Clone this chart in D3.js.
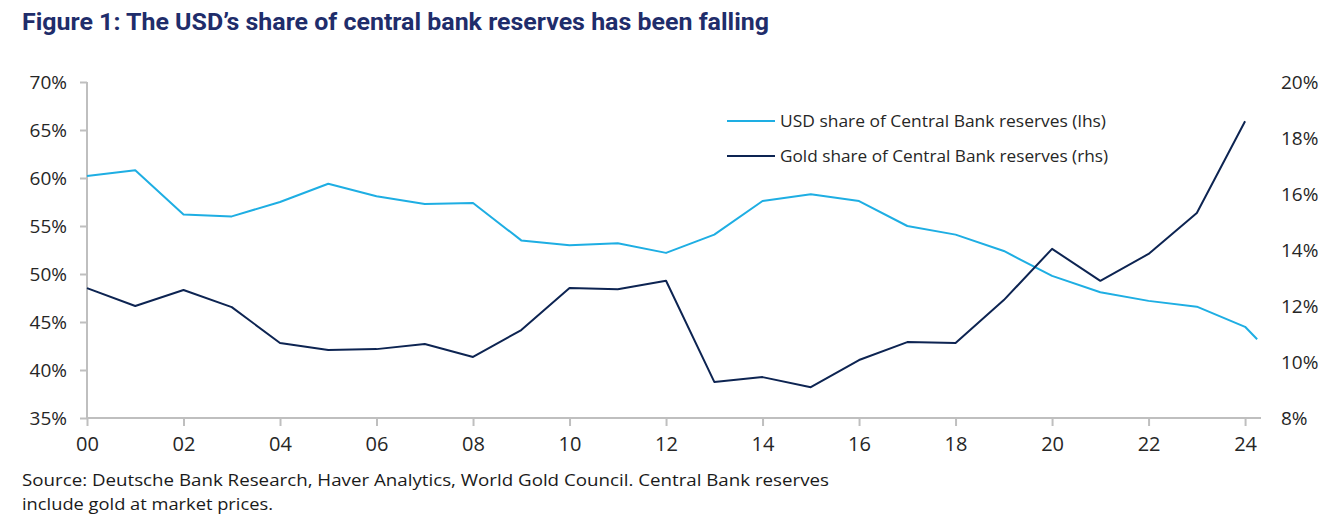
<!DOCTYPE html>
<html>
<head>
<meta charset="utf-8">
<script src="https://cdn.jsdelivr.net/npm/d3@7"></script>
<style>
  body { margin: 0; background: #fff; }
  svg text { font-family: "Open Sans", "Noto Sans", sans-serif; }
</style>
</head>
<body>
<svg id="chart" width="1342" height="517"></svg>
<script>
// Data
const years = [2000, 2001, 2002, 2003, 2004, 2005, 2006, 2007, 2008, 2009, 2010, 2011, 2012,
               2013, 2014, 2015, 2016, 2017, 2018, 2019, 2020, 2021, 2022, 2023, 2024, 2024.25];
const usdShare = [60.2, 60.8, 56.2, 56.0, 57.5, 59.4, 58.1, 57.3, 57.4, 53.5, 53.0, 53.2, 52.2,
                  54.1, 57.6, 58.3, 57.6, 55.0, 54.1, 52.4, 49.8, 48.1, 47.2, 46.6, 44.5, 43.2];
const goldYears = years.slice(0, 25);
const goldShare = [12.64, 12.0, 12.57, 11.96, 10.68, 10.43, 10.46, 10.64, 10.18, 11.14, 12.64, 12.6, 12.9,
                   9.29, 9.46, 9.1, 10.07, 10.71, 10.68, 12.21, 14.04, 12.9, 13.86, 15.32, 18.6];
const xTicks = [2000, 2002, 2004, 2006, 2008, 2010, 2012, 2014, 2016, 2018, 2020, 2022, 2024];
const leftTicks = [35, 40, 45, 50, 55, 60, 65, 70];
const rightTicks = [8, 10, 12, 14, 16, 18, 20];
const seriesNames = ["USD share of Central Bank reserves (lhs)", "Gold share of Central Bank reserves (rhs)"];

const usdColor = "#1eaee3", goldColor = "#0d2452", axisColor = "#bfbfbf";

const svg = d3.select("#chart");
const plot = {left: 87, right: 1261, top: 82, bottom: 418};

const x = d3.scaleLinear().domain([2000, 2024.33]).range([plot.left, plot.right]);
const yL = d3.scaleLinear().domain([35, 70]).range([plot.bottom, plot.top]);
const yR = d3.scaleLinear().domain([8, 20]).range([plot.bottom, plot.top]);

// Title
svg.append("text")
    .attr("x", 22).attr("y", 30)
    .attr("fill", "#1f2d6b")
    .style("font-family", "'Liberation Sans Narrow', 'Roboto', sans-serif")
    .style("font-weight", "bold")
    .style("font-size", "23px")
    .attr("textLength", 747)
    .attr("lengthAdjust", "spacingAndGlyphs")
    .text("Figure 1: The USD\u2019s share of central bank reserves has been falling");

// Left axis
const gL = svg.append("g")
    .attr("transform", `translate(${plot.left},0)`)
    .call(d3.axisLeft(yL).tickValues(leftTicks).tickSize(7).tickPadding(13).tickFormat(d => d + "%"));
gL.select(".domain").attr("stroke", axisColor).attr("stroke-width", 2).attr("d", `M0,${plot.top}V${plot.bottom}`);
gL.selectAll(".tick line").attr("stroke", axisColor).attr("stroke-width", 2);
gL.selectAll(".tick text").attr("fill", "#262626").style("font-size", "19px");

// Right axis (labels only)
const gR = svg.append("g")
    .attr("transform", `translate(${plot.right},0)`)
    .call(d3.axisRight(yR).tickValues(rightTicks).tickSize(0).tickPadding(20).tickFormat(d => d + "%"));
gR.select(".domain").remove();
gR.selectAll(".tick text").attr("fill", "#262626").style("font-size", "19px");

// Bottom axis
const gB = svg.append("g")
    .attr("transform", `translate(0,${plot.bottom})`)
    .call(d3.axisBottom(x).tickValues(xTicks).tickSize(8).tickPadding(11)
        .tickFormat(d => String(d % 100).padStart(2, "0")));
gB.select(".domain").attr("stroke", axisColor).attr("stroke-width", 2).attr("d", `M${plot.left},0H${plot.right}`);
gB.selectAll(".tick line").attr("stroke", axisColor).attr("stroke-width", 2);
gB.selectAll(".tick text").attr("fill", "#262626").style("font-size", "20px");

// Lines
const lineL = d3.line().x((d, i) => x(years[i])).y(d => yL(d));
const lineR = d3.line().x((d, i) => x(goldYears[i])).y(d => yR(d));

svg.append("path").datum(usdShare)
    .attr("fill", "none").attr("stroke", usdColor).attr("stroke-width", 2)
    .attr("stroke-linejoin", "round")
    .attr("d", lineL);

svg.append("path").datum(goldShare)
    .attr("fill", "none").attr("stroke", goldColor).attr("stroke-width", 2)
    .attr("stroke-linejoin", "round")
    .attr("d", lineR);

// Legend
const legend = svg.selectAll(".legend")
    .data(seriesNames)
    .join("g")
    .attr("class", "legend")
    .attr("transform", (d, i) => `translate(727,${121 + i * 35})`);

legend.append("line")
    .attr("x1", 0).attr("x2", 48)
    .attr("stroke", (d, i) => i === 0 ? usdColor : goldColor)
    .attr("stroke-width", 2);

legend.append("text")
    .attr("x", 53).attr("y", 6)
    .attr("fill", "#262626")
    .style("font-size", "16.5px")
    .attr("textLength", (d, i) => i === 0 ? 326 : 328)
    .attr("lengthAdjust", "spacingAndGlyphs")
    .text(d => d);

// Footnote
const notes = ["Source: Deutsche Bank Research, Haver Analytics, World Gold Council. Central Bank reserves",
               "include gold at market prices."];
svg.selectAll(".note")
    .data(notes)
    .join("text")
    .attr("class", "note")
    .attr("x", 22)
    .attr("y", (d, i) => 486 + i * 24)
    .attr("fill", "#1a1a1a")
    .style("font-size", "17px")
    .attr("textLength", (d, i) => i === 0 ? 807 : 251)
    .attr("lengthAdjust", "spacingAndGlyphs")
    .text(d => d);
</script>
</body>
</html>
